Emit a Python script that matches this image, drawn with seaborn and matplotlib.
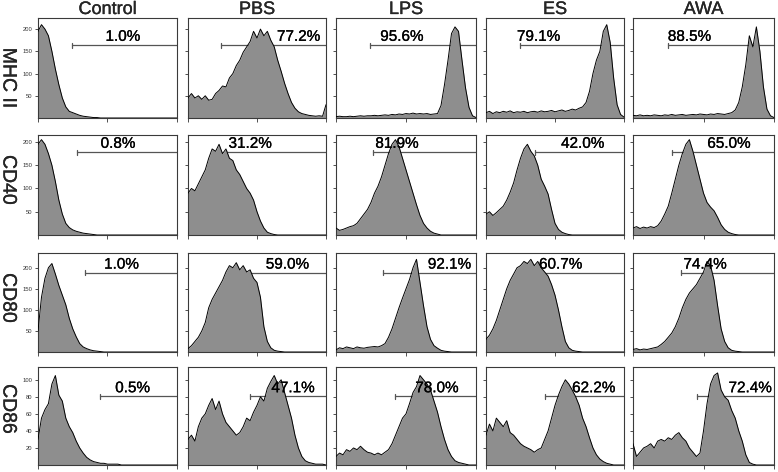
import numpy as np
import pandas as pd
import matplotlib
matplotlib.use('Agg')
import matplotlib.pyplot as plt
import matplotlib.patheffects as pe
import seaborn as sns
from matplotlib.ticker import FixedLocator, LogLocator, NullFormatter

GROUPS = ['Control', 'PBS', 'LPS', 'ES', 'AWA']
MARKERS = ['MHC II', 'CD40', 'CD80', 'CD86']

# bin centres in log10 decades of fluorescence (axis runs 10^0 .. 10^4)
CHANNEL = [0.0, 0.1, 0.2, 0.3, 0.4, 0.5, 0.6, 0.7, 0.8, 0.9,
           1.0, 1.1, 1.2, 1.3, 1.4, 1.5, 1.6, 1.7, 1.8, 1.9,
           2.0, 2.1, 2.2, 2.3, 2.4, 2.5, 2.6, 2.7, 2.8, 2.9,
           3.0, 3.1, 3.2, 3.3, 3.4, 3.5, 3.6, 3.7, 3.8, 3.9, 4.0]

# event counts per bin
MHC_CONTROL = [195, 210, 200, 185, 150, 110, 75, 45, 25, 15, 12, 9, 6, 4, 3, 2, 1, 1, 0, 0,
               0, 0, 0, 0, 0, 0, 0, 0, 0, 0, 0, 0, 0, 0, 0, 0, 0, 0, 0, 0, 0]
MHC_PBS = [45, 55, 45, 50, 42, 50, 40, 42, 55, 62, 72, 70, 90, 100, 118, 130, 148, 160, 172, 195,
           180, 200, 185, 195, 175, 160, 130, 105, 78, 55, 35, 22, 14, 10, 8, 6, 5, 4, 5, 4, 30]
MHC_LPS = [3, 4, 3, 3, 4, 3, 4, 5, 4, 5, 5, 6, 5, 6, 7, 6, 8, 7, 9, 8,
           10, 9, 11, 9, 10, 9, 10, 8, 9, 10, 28, 75, 130, 190, 205, 195, 130, 68, 24, 5, 1]
MHC_ES = [12, 15, 10, 14, 12, 15, 13, 16, 12, 14, 13, 15, 12, 14, 15, 13, 16, 14, 15, 17,
          14, 16, 18, 15, 17, 20, 18, 22, 25, 35, 60, 100, 130, 150, 195, 210, 170, 90, 30, 8, 2]
MHC_AWA = [6, 5, 7, 5, 6, 5, 7, 6, 5, 7, 6, 8, 6, 7, 8, 6, 7, 8, 7, 9,
           8, 7, 9, 8, 10, 9, 8, 10, 12, 18, 35, 70, 120, 185, 160, 205, 150, 70, 20, 5, 1]

CD40_CONTROL = [195, 205, 195, 175, 150, 115, 75, 45, 25, 16, 11, 8, 6, 4, 3, 2, 1, 0, 0, 0,
                0, 0, 0, 0, 0, 0, 0, 0, 0, 0, 0, 0, 0, 0, 0, 0, 0, 0, 0, 0, 0]
CD40_PBS = [90, 100, 95, 110, 125, 140, 165, 185, 180, 195, 175, 185, 165, 160, 140, 130, 115, 100, 90, 75,
            50, 30, 15, 6, 3, 1, 0, 0, 0, 0, 0, 0, 0, 0, 0, 0, 0, 0, 0, 0, 0]
CD40_LPS = [15, 10, 12, 15, 18, 20, 25, 35, 45, 55, 70, 90, 105, 125, 150, 175, 195, 205, 190, 165,
            140, 115, 90, 65, 42, 25, 15, 8, 4, 2, 0, 0, 0, 0, 0, 0, 0, 0, 0, 0, 0]
CD40_ES = [45, 50, 42, 48, 55, 62, 75, 92, 112, 140, 165, 185, 195, 180, 170, 150, 120, 105, 88, 55,
           25, 12, 6, 3, 1, 0, 0, 0, 0, 0, 0, 0, 0, 0, 0, 0, 0, 0, 0, 0, 0]
CD40_AWA = [15, 18, 14, 17, 15, 18, 16, 20, 30, 45, 62, 90, 120, 150, 175, 195, 205, 180, 150, 120,
            90, 70, 60, 52, 38, 22, 12, 6, 3, 1, 0, 0, 0, 0, 0, 0, 0, 0, 0, 0, 0]

CD80_CONTROL = [50, 130, 175, 200, 210, 185, 158, 135, 112, 80, 55, 36, 20, 12, 8, 5, 3, 2, 1, 0,
                0, 0, 0, 0, 0, 0, 0, 0, 0, 0, 0, 0, 0, 0, 0, 0, 0, 0, 0, 0, 0]
CD80_PBS = [8, 15, 25, 35, 50, 70, 105, 125, 140, 155, 170, 190, 205, 200, 212, 195, 205, 190, 195, 175,
            165, 130, 60, 25, 10, 4, 2, 1, 0, 0, 0, 0, 0, 0, 0, 0, 0, 0, 0, 0, 0]
CD80_LPS = [5, 10, 8, 12, 10, 8, 12, 10, 9, 11, 12, 13, 12, 15, 20, 35, 55, 80, 105, 128,
            150, 172, 200, 220, 165, 110, 60, 30, 15, 9, 4, 2, 1, 0, 0, 0, 0, 0, 0, 0, 0]
CD80_ES = [30, 40, 55, 75, 100, 125, 150, 170, 185, 200, 205, 215, 210, 220, 205, 215, 200, 190, 180, 160,
           135, 100, 60, 25, 10, 4, 2, 1, 0, 0, 0, 0, 0, 0, 0, 0, 0, 0, 0, 0, 0]
CD80_AWA = [6, 8, 5, 7, 6, 8, 10, 12, 18, 25, 35, 45, 60, 80, 105, 125, 140, 150, 160, 175,
            190, 215, 205, 170, 110, 55, 25, 10, 4, 2, 1, 0, 0, 0, 0, 0, 0, 0, 0, 0, 0]

CD86_CONTROL = [30, 55, 65, 72, 95, 105, 82, 75, 55, 45, 38, 28, 20, 14, 9, 6, 4, 3, 2, 2,
                1, 1, 1, 1, 0, 0, 0, 0, 0, 0, 0, 0, 0, 0, 0, 0, 0, 0, 0, 0, 0]
CD86_PBS = [30, 35, 28, 45, 55, 60, 70, 78, 65, 75, 60, 50, 45, 40, 35, 38, 45, 55, 52, 62,
            70, 80, 75, 90, 98, 105, 95, 100, 85, 70, 55, 35, 20, 10, 5, 3, 2, 1, 1, 1, 0]
CD86_LPS = [10, 14, 12, 18, 16, 20, 18, 22, 18, 15, 14, 12, 14, 12, 15, 18, 25, 35, 45, 55,
            60, 72, 85, 92, 105, 100, 95, 88, 75, 62, 45, 30, 18, 10, 5, 3, 2, 1, 0, 0, 0]
CD86_ES = [35, 48, 40, 55, 50, 45, 52, 38, 35, 30, 25, 22, 20, 18, 15, 18, 20, 30, 40, 55,
           70, 82, 92, 100, 95, 88, 80, 70, 55, 45, 32, 20, 12, 7, 4, 2, 1, 0, 0, 0, 0]
CD86_AWA = [25, 10, 15, 20, 22, 25, 20, 28, 30, 28, 32, 30, 35, 38, 32, 28, 20, 15, 10, 14,
            40, 72, 95, 105, 108, 88, 80, 76, 64, 55, 40, 28, 12, 3, 1, 0, 0, 0, 0, 0, 0]

COUNTS = {
    'MHC II': [MHC_CONTROL, MHC_PBS, MHC_LPS, MHC_ES, MHC_AWA],
    'CD40': [CD40_CONTROL, CD40_PBS, CD40_LPS, CD40_ES, CD40_AWA],
    'CD80': [CD80_CONTROL, CD80_PBS, CD80_LPS, CD80_ES, CD80_AWA],
    'CD86': [CD86_CONTROL, CD86_PBS, CD86_LPS, CD86_ES, CD86_AWA],
}

PERCENT = [['1.0%', '77.2%', '95.6%', '79.1%', '88.5%'],
           ['0.8%', '31.2%', '81.9%', '42.0%', '65.0%'],
           ['1.0%', '59.0%', '92.1%', '60.7%', '74.4%'],
           ['0.5%', '47.1%', '78.0%', '62.2%', '72.4%']]

# gate start, in decades
GATE = [[0.98, 0.96, 0.97, 0.98, 0.99],
        [1.12, 1.10, 1.06, 1.42, 1.11],
        [1.36, 1.36, 1.34, 1.36, 1.36],
        [1.78, 1.80, 1.68, 1.72, 1.82]]

Y_MAX = [225, 215, 235, 115]
Y_TICKS = [[50, 100, 150, 200], [50, 100, 150, 200], [50, 100, 150, 200], [20, 40, 60, 80, 100]]

# layout (pixels of the 778x472 figure)
W, H = 778, 472
COL_LEFT = [38, 188, 336, 486, 633]
COL_WIDTH = [139, 138, 140, 138, 141]
ROW_TOP = [18, 135, 253, 367]
ROW_BOTTOM = [118, 235, 352, 465]
ROW_LABEL_Y = [78, 180, 298, 409]
GATE_LEVEL = [0.73, 0.83, 0.80, 0.70]
LABEL_X = [[0.61, 0.80, 0.47, 0.38, 0.40],
           [0.575, 0.45, 0.435, 0.70, 0.68],
           [0.60, 0.72, 0.81, 0.54, 0.51],
           [0.68, 0.76, 0.72, 0.78, 0.83]]

rows = []
for marker in MARKERS:
    for group, counts in zip(GROUPS, COUNTS[marker]):
        for ch, c in zip(CHANNEL, counts):
            rows.append({'marker': marker, 'group': group, 'fluor': 10 ** ch, 'count': c})
df = pd.DataFrame(rows)

sns.set_theme(style='ticks')
plt.rcParams['font.family'] = ['Liberation Sans', 'DejaVu Sans']

# a touch heavier than regular, like the scanned figure
heavy = [pe.withStroke(linewidth=0.2, foreground='black')]

fig = plt.figure(figsize=(W / 100, H / 100), dpi=100)

for m, marker in enumerate(MARKERS):
    for g, group in enumerate(GROUPS):
        rect = [COL_LEFT[g] / W, 1 - ROW_BOTTOM[m] / H,
                COL_WIDTH[g] / W, (ROW_BOTTOM[m] - ROW_TOP[m]) / H]
        ax = fig.add_axes(rect)
        sub = df[(df['marker'] == marker) & (df['group'] == group)]
        ax.fill_between(sub['fluor'], sub['count'], color='#8e8e8e', lw=0, zorder=2)
        sns.lineplot(data=sub, x='fluor', y='count', ax=ax, color='black', lw=0.7,
                     estimator=None, zorder=3)
        ax.set_xscale('log')
        ax.set(xlim=(1, 1e4), ylim=(0, Y_MAX[m]), xlabel='', ylabel='')

        ax.xaxis.set_major_locator(LogLocator(base=10))
        ax.xaxis.set_minor_locator(LogLocator(base=10, subs=np.arange(2, 10)))
        ax.xaxis.set_minor_formatter(NullFormatter())
        ax.yaxis.set_major_locator(FixedLocator(Y_TICKS[m]))
        ax.tick_params(axis='x', which='major', length=3, width=0.6, color='#333333',
                       labelbottom=False)
        ax.tick_params(axis='x', which='minor', length=1.8, width=0.5, color='#333333')
        ax.tick_params(axis='y', length=2.5, width=0.6, color='#333333', pad=1.5,
                       labelsize=4.2, labelcolor='#333333', labelleft=(g == 0))
        for sp in ax.spines.values():
            sp.set_linewidth(0.8)
            sp.set_color('#3a3a3a')

        lvl = GATE_LEVEL[m]
        trans = ax.get_xaxis_transform()
        x0 = 10 ** GATE[m][g]
        ax.plot([x0, 1e4], [lvl, lvl], transform=trans, color='#555555', lw=0.9, zorder=1)
        ax.plot([x0, x0], [lvl - 0.025, lvl + 0.025], transform=trans, color='#555555',
                lw=0.9, zorder=1)
        ax.text(LABEL_X[m][g], lvl + 0.012, PERCENT[m][g], transform=ax.transAxes,
                ha='center', va='bottom', fontsize=11, color='black', zorder=5,
                path_effects=heavy)

        if m == 0:
            fig.text((COL_LEFT[g] + COL_WIDTH[g] / 2) / W, 1 - 9.5 / H, group,
                     ha='center', va='center', fontsize=13, path_effects=heavy)
    fig.text(8 / W, 1 - ROW_LABEL_Y[m] / H, marker, rotation=270,
             ha='center', va='center', fontsize=14, path_effects=heavy)

fig.savefig('out.png', dpi=100)
